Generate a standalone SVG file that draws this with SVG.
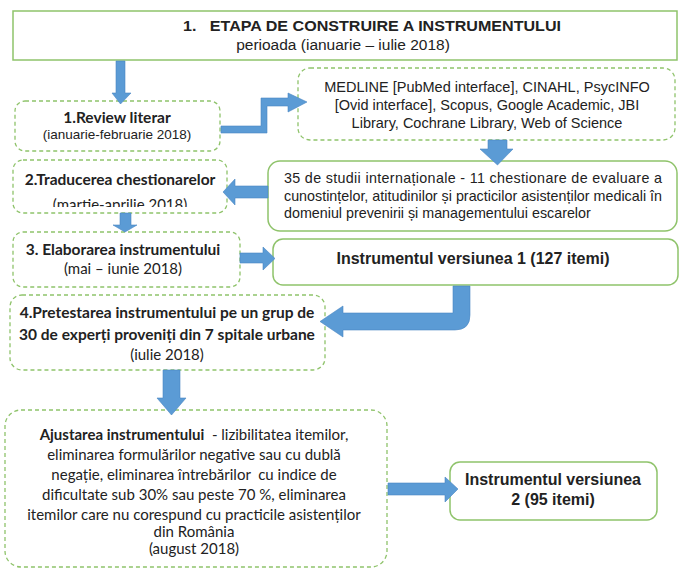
<svg xmlns="http://www.w3.org/2000/svg" width="683" height="569" viewBox="0 0 683 569">
<defs>
<style>
.solid{fill:#fff;stroke:#8fc36b;stroke-width:1.5}
.dash{fill:#fff;stroke:#8fc36b;stroke-width:1.3;stroke-dasharray:4 3}
.arr{fill:#5b9bd5;stroke:#4a86c2;stroke-width:0.6}
.a{font-family:"Liberation Sans",Arial,sans-serif;fill:#222}
.c{font-family:Lato,"Liberation Sans",sans-serif;fill:#222}
.b{font-weight:bold}
</style>
<clipPath id="clip2"><rect x="13" y="160" width="214" height="47"/></clipPath>
</defs>
<rect width="683" height="569" fill="#fff"/>

<g id="title">
<rect class="solid" x="13" y="11" width="664" height="49"/>
<text class="a b" x="183" y="31" font-size="15.5" xml:space="preserve" style="white-space:pre" textLength="378" lengthAdjust="spacingAndGlyphs">1.   ETAPA DE CONSTRUIRE A INSTRUMENTULUI</text>
<text class="a" x="343" y="50" font-size="15.5" text-anchor="middle">perioada (ianuarie – iulie 2018)</text>
</g>

<g id="review">
<rect class="dash" x="15" y="101" width="205" height="50" rx="10"/>
<text class="c b" x="117" y="123" font-size="15.5" text-anchor="middle">1.Review literar</text>
<text class="a" x="117" y="139" font-size="13.5" text-anchor="middle">(ianuarie-februarie 2018)</text>
</g>

<g id="medline">
<rect class="dash" x="298" y="68" width="377" height="72" rx="12"/>
<text class="a" x="487" y="92" font-size="14.5" text-anchor="middle">MEDLINE [PubMed interface], CINAHL, PsycINFO</text>
<text class="a" x="487" y="110" font-size="14.5" text-anchor="middle">[Ovid interface], Scopus, Google Academic, JBI</text>
<text class="a" x="487" y="128" font-size="14.5" text-anchor="middle">Library, Cochrane Library, Web of Science</text>
</g>

<g id="studii">
<rect class="solid" x="268" y="161" width="409" height="70" rx="12"/>
<text class="a" x="284" y="183" font-size="14.3" textLength="378" lengthAdjust="spacing">35 de studii internaționale - 11 chestionare de evaluare a</text>
<text class="a" x="284" y="201" font-size="14.3" textLength="378" lengthAdjust="spacing">cunostințelor, atitudinilor și practicilor asistenților medicali în</text>
<text class="a" x="284" y="218" font-size="14.3">domeniul prevenirii și managementului escarelor</text>
</g>

<g id="traducerea">
<rect class="dash" x="13" y="160" width="214" height="53" rx="10"/>
<text class="c b" x="120" y="185" font-size="15.5" text-anchor="middle">2.Traducerea chestionarelor</text>
<text class="c" x="120" y="210" font-size="15" text-anchor="middle" clip-path="url(#clip2)">(martie-aprilie 2018)</text>
</g>

<g id="elaborarea">
<rect class="dash" x="13" y="232" width="227" height="55" rx="10"/>
<text class="c b" x="123" y="255" font-size="15.5" text-anchor="middle">3. Elaborarea instrumentului</text>
<text class="c" x="123" y="274" font-size="15" text-anchor="middle">(mai – iunie 2018)</text>
</g>

<g id="versiunea1">
<rect class="solid" x="273" y="239" width="405" height="46" rx="10"/>
<text class="a b" x="473" y="264" font-size="16" text-anchor="middle">Instrumentul versiunea 1 (127 itemi)</text>
</g>

<g id="pretestarea">
<rect class="dash" x="10" y="295" width="315" height="75" rx="12"/>
<text class="c b" x="167" y="318" font-size="15.5" text-anchor="middle">4.Pretestarea instrumentului pe un grup de</text>
<text class="c b" x="167" y="340" font-size="15.5" text-anchor="middle">30 de experți proveniți din 7 spitale urbane</text>
<text class="c" x="167" y="360" font-size="15" text-anchor="middle">(iulie 2018)</text>
</g>

<g id="ajustarea">
<rect class="dash" x="5" y="410" width="382" height="157" rx="16"/>
<g class="c" font-size="15" text-anchor="middle">
<text x="194" y="440" xml:space="preserve" style="white-space:pre"><tspan font-weight="bold">Ajustarea instrumentului</tspan>  - lizibilitatea itemilor,</text>
<text x="194" y="460">eliminarea formulărilor negative sau cu dublă</text>
<text x="194" y="480" xml:space="preserve" style="white-space:pre">negație, eliminarea întrebărilor  cu indice de</text>
<text x="194" y="500">dificultate sub 30% sau peste 70 %, eliminarea</text>
<text x="194" y="520">itemilor care nu corespund cu practicile asistenților</text>
<text x="194" y="537">din România</text>
<text x="194" y="554">(august 2018)</text>
</g>
</g>

<g id="versiunea2">
<rect class="solid" x="450" y="462" width="207" height="58" rx="10"/>
<text class="a b" x="553" y="485" font-size="16" text-anchor="middle">Instrumentul versiunea</text>
<text class="a b" x="553" y="505" font-size="16" text-anchor="middle">2 (95 itemi)</text>
</g>

<g id="connectors">
<polygon class="arr" points="116,61 125,61 125,93 131,93 120.5,104 112,93 116,93"/>
<polygon class="arr" points="221,126 261,126 261,98 288,98 288,93 307,102 288,112 288,106 267,106 267,133 221,133"/>
<polygon class="arr" points="488,140 507,140 507,149 513,149 497.5,165 480,149 488,149"/>
<polygon class="arr" points="268,186 235,186 235,179 223,192 235,205 235,198 268,198"/>
<polygon class="arr" points="120,213 131,213 131,225 137,225 125,232 113,225 120,225"/>
<polygon class="arr" points="240,253 263,253 263,247 275,258.5 263,270 263,263 240,263"/>
<path class="arr" d="M453,286 L470,286 L470,315 Q470,330 455,330 L343,330 L343,337 L320,321.5 L343,306 L343,313 L453,313 Z"/>
<polygon class="arr" points="163,370 180,370 180,398 186,398 171.5,415 157,398 163,398"/>
<polygon class="arr" points="388,483 445,483 445,477 458,489 445,502 445,495 388,495"/>
</g>
</svg>
